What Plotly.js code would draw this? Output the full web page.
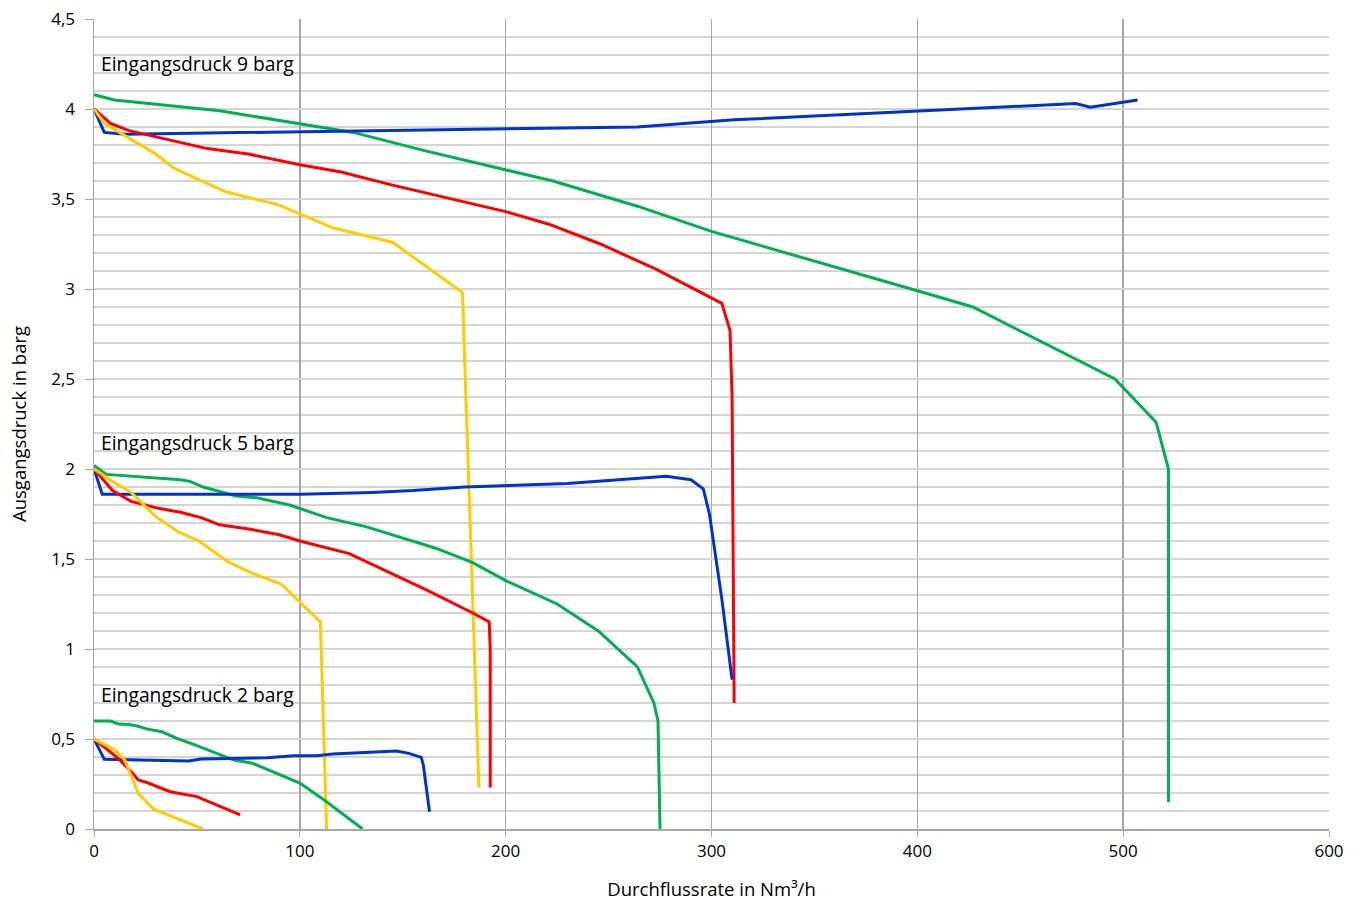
<!DOCTYPE html>
<html>
<head>
<meta charset="utf-8">
<script src="https://cdn.plot.ly/plotly-3.0.1.min.js"></script>
<style>
html,body{margin:0;padding:0;background:#fff;}
#chart{width:1361px;height:901px;}
</style>
</head>
<body>
<div id="chart"></div>
<script>
// ---- Data (x: Durchflussrate Nm³/h, y: Ausgangsdruck barg) ----
// Eingangsdruck 9 barg
const g9x = [0, 10, 61, 100, 126, 160, 223, 264, 300, 400, 427, 496, 516, 522, 522];
const g9y = [4.08, 4.05, 3.99, 3.92, 3.87, 3.77, 3.6, 3.46, 3.32, 2.99, 2.9, 2.5, 2.26, 2.0, 0.15];
const b9x = [0, 5, 15, 264, 311, 477, 484, 507];
const b9y = [4.0, 3.87, 3.86, 3.9, 3.94, 4.03, 4.01, 4.05];
const r9x = [0, 8, 17, 55, 75, 100, 120, 144, 200, 221, 246, 273, 305, 309, 310, 311];
const r9y = [4.0, 3.92, 3.88, 3.78, 3.75, 3.69, 3.65, 3.58, 3.43, 3.36, 3.25, 3.11, 2.92, 2.77, 2.4, 0.7];
const y9x = [0, 5, 30, 39, 64, 89, 116, 145, 179, 187];
const y9y = [4.0, 3.92, 3.75, 3.67, 3.54, 3.47, 3.34, 3.26, 2.98, 0.23];
// Eingangsdruck 5 barg
const g5x = [0, 6, 42, 47, 53, 69, 79, 95, 113, 132, 166, 184, 200, 225, 245, 264, 272, 274, 275];
const g5y = [2.02, 1.97, 1.94, 1.93, 1.9, 1.85, 1.84, 1.8, 1.73, 1.68, 1.56, 1.48, 1.38, 1.25, 1.1, 0.9, 0.7, 0.6, 0.0];
const b5x = [0, 4, 100, 135, 155, 180, 230, 278, 290, 294, 296, 299, 305, 310];
const b5y = [2.0, 1.86, 1.86, 1.87, 1.88, 1.9, 1.92, 1.96, 1.94, 1.91, 1.89, 1.75, 1.28, 0.83];
const r5x = [0, 9, 18, 32, 42, 52, 61, 76, 90, 100, 124, 163, 184, 192, 192.5, 192.5];
const r5y = [2.0, 1.88, 1.82, 1.78, 1.76, 1.73, 1.69, 1.665, 1.635, 1.6, 1.53, 1.32, 1.2, 1.15, 1.0, 0.23];
const y5x = [0, 9, 18, 30, 41, 51, 65, 77, 91, 110, 113];
const y5y = [2.0, 1.93, 1.87, 1.735, 1.65, 1.6, 1.485, 1.42, 1.36, 1.15, 0.0];
// Eingangsdruck 2 barg
const g2x = [0, 8, 12, 17, 21, 26, 33, 40, 49, 68, 77, 100, 112, 130.5];
const g2y = [0.6, 0.6, 0.583, 0.58, 0.572, 0.555, 0.54, 0.505, 0.467, 0.383, 0.365, 0.255, 0.16, 0.0];
const b2x = [0, 5, 46, 52, 84, 97, 108, 116, 147, 153, 159, 160, 163];
const b2y = [0.5, 0.387, 0.378, 0.389, 0.396, 0.407, 0.407, 0.417, 0.433, 0.42, 0.398, 0.355, 0.096];
const r2x = [0, 11, 18, 21.5, 26, 37, 50, 71];
const r2y = [0.5, 0.4, 0.32, 0.272, 0.257, 0.207, 0.18, 0.078];
const y2x = [0, 10, 15, 21.5, 29, 40, 53];
const y2y = [0.5, 0.44, 0.383, 0.198, 0.11, 0.06, 0.0];

const groupLabels = ["Eingangsdruck 9 barg", "Eingangsdruck 5 barg", "Eingangsdruck 2 barg"];
const labelY = [4.255, 2.15, 0.75];

const xTitle = "Durchflussrate in Nm³/h";
const yTitle = "Ausgangsdruck in barg";

// ---- Styling ----
const GREEN = "#00B050", BLUE = "#0033CC", RED = "#FF0000", YELLOW = "#FFCC00";
const series = [
  [g9x, g9y, GREEN], [b9x, b9y, BLUE], [r9x, r9y, RED], [y9x, y9y, YELLOW],
  [g5x, g5y, GREEN], [b5x, b5y, BLUE], [r5x, r5y, RED], [y5x, y5y, YELLOW],
  [g2x, g2y, GREEN], [b2x, b2y, BLUE], [r2x, r2y, RED], [y2x, y2y, YELLOW]
];
const traces = series.map(s => ({
  x: s[0], y: s[1], type: "scatter", mode: "lines",
  line: {color: s[2], width: 3}, hoverinfo: "x+y"
}));

const FONT = "'Open Sans', Lato, sans-serif";
const layout = {
  width: 1361, height: 901,
  margin: {l: 94, r: 32, t: 19, b: 72},
  paper_bgcolor: "#ffffff", plot_bgcolor: "#ffffff",
  showlegend: false,
  separators: ", ",
  font: {family: FONT, size: 17, color: "#000"},
  xaxis: {
    range: [0, 600], dtick: 100, tick0: 0,
    showgrid: true, gridcolor: "#a6a6a6", gridwidth: 1.5,
    zeroline: false, showline: true, linecolor: "#a6a6a6", linewidth: 1.5,
    ticks: "outside", ticklen: 6, tickcolor: "#a6a6a6",
    tickfont: {family: FONT, size: 17, color: "#000"},
    title: {text: xTitle, font: {family: FONT, size: 18.5, color: "#000"}, standoff: 25}
  },
  yaxis: {
    range: [0, 4.5], dtick: 0.5, tick0: 0,
    showgrid: true, gridcolor: "#d4d4d4", gridwidth: 2,
    minor: {dtick: 0.1, showgrid: true, gridcolor: "#d4d4d4", gridwidth: 2},
    zeroline: false, showline: true, linecolor: "#a6a6a6", linewidth: 1.5,
    ticks: "outside", ticklen: 8, tickcolor: "#a6a6a6",
    ticklabelstandoff: 6,
    tickfont: {family: FONT, size: 17, color: "#000"},
    title: {text: yTitle, font: {family: FONT, size: 18.5, color: "#000"}, standoff: 20}
  },
  annotations: groupLabels.map((t, i) => ({
    x: 2.5, y: labelY[i], xref: "x", yref: "y", text: t, showarrow: false,
    xanchor: "left", yanchor: "middle",
    font: {family: FONT, size: 19.3, color: "#000"}
  }))
};

Plotly.newPlot("chart", traces, layout, {displayModeBar: false, staticPlot: true});
</script>
</body>
</html>
